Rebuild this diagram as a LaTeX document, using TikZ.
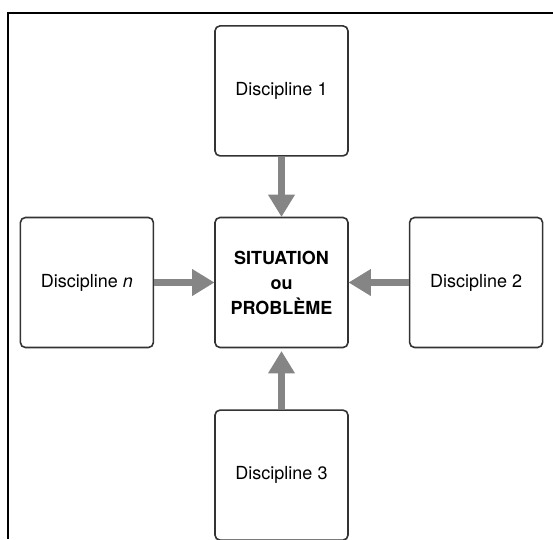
\documentclass[tikz,border=0pt]{standalone}
\usepackage{fontspec}
\setmainfont{TeX Gyre Heros}
\usetikzlibrary{positioning, arrows.meta}

\tikzset{
  discbox/.style={draw=black!80, line width=1.6pt, rounded corners=5pt,
    minimum width=133pt, minimum height=130pt, align=center,
    font=\fontsize{18}{25}\selectfont},
  flow/.style={draw=black!48, line width=7pt,
    -{Triangle[length=22pt, width=27pt, line width=0pt]}}
}

\begin{document}
\begin{tikzpicture}[x=1pt, y=-1pt]
\useasboundingbox (0,0) rectangle (553,539);

% frame (cut at the right and bottom)
\draw[line width=1.8pt] (553,13) -- (8,13) -- (8,539);

\node[discbox] (situation) at (281.5,282.5)
  {\textbf{SITUATION}\\\textbf{ou}\\\textbf{PROBLÈME}};
\node[discbox, above=60pt of situation] (disc1) {Discipline 1};
\node[discbox, right=60pt of situation] (disc2) {Discipline 2};
\node[discbox, below=61pt of situation] (disc3) {Discipline 3};
\node[discbox, left=60pt of situation] (discn) {Discipline \textit{n}};

\draw[flow] (disc1) -- (situation);
\draw[flow] (disc2) -- (situation);
\draw[flow, shorten >=3pt] (disc3) -- (situation);
\draw[flow] (discn) -- (situation);
\end{tikzpicture}
\end{document}
